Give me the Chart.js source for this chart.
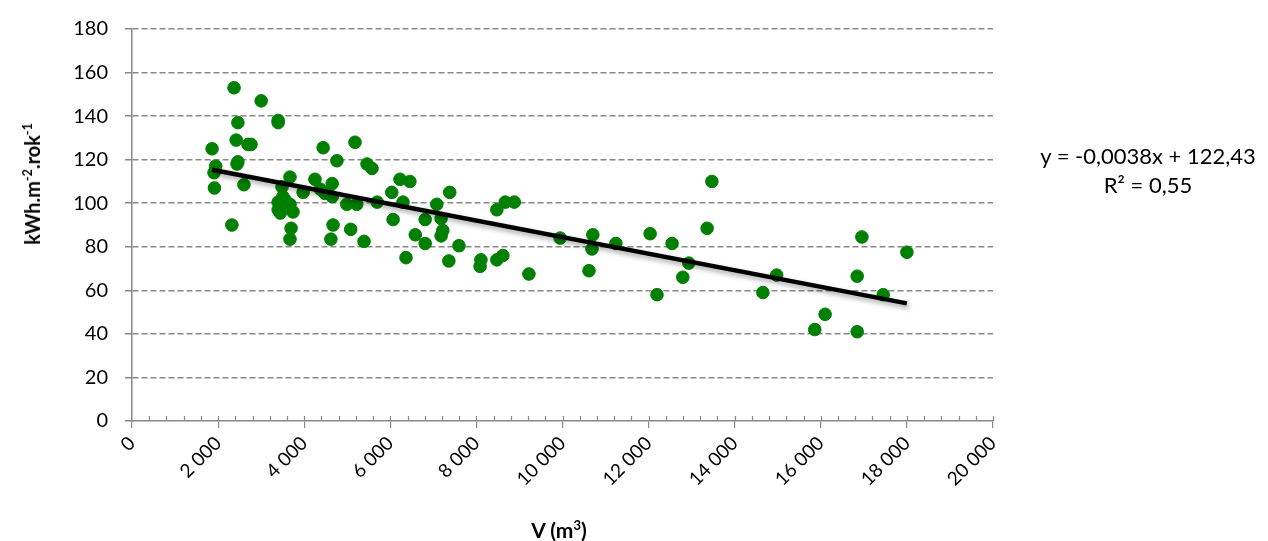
<!DOCTYPE html>
<html>
<head>
<meta charset="utf-8">
<script src="https://cdn.jsdelivr.net/npm/chart.js@4/dist/chart.umd.min.js"></script>
<style>
  html, body { margin: 0; padding: 0; background: #fff; }
  #wrap { position: relative; width: 1268px; height: 541px; font-family: Lato, "Liberation Sans", sans-serif; }
  #chart { position: absolute; left: 0; top: 0; }
  .ytitle { position: absolute; left: 32px; top: 184px; transform: translate(-50%, -50%) rotate(-90deg);
    font-weight: bold; font-size: 20px; white-space: nowrap; color: #000; }
  .xtitle { position: absolute; left: 559px; top: 529px; transform: translate(-50%, -50%);
    font-weight: bold; font-size: 21px; white-space: nowrap; color: #000; }
  .eq { position: absolute; left: 1148px; transform: translateX(-50%); font-size: 22px; white-space: nowrap; color: #000; }
  sup { font-size: 0.62em; line-height: 0; }
</style>
</head>
<body>
<div id="wrap">
  <canvas id="chart" width="1268" height="541"></canvas>
  <div class="ytitle">kWh.m<sup>-2</sup>.rok<sup>-1</sup></div>
  <div class="xtitle">V (m<sup>3</sup>)</div>
  <div class="eq" style="top:142px">y = -0,0038x + 122,43</div>
  <div class="eq" style="top:171px">R² = 0,55</div>
</div>
<script>
// objem budovy V (m3)
const volumes = [
  1860, 1945, 1905, 1915, 2320, 2370, 3000, 3395, 3395, 2460,
  2420, 2695, 2765, 2460, 2440, 2600, 3670, 3485, 3975, 3395,
  3555, 3395, 3670, 3445, 3740, 3505, 3695, 3670, 4440, 4250,
  4650, 4485, 4650, 4370, 4990, 5220, 5180, 4760, 5460, 5575,
  5695, 6035, 6225, 6455, 6295, 6065, 4670, 5080, 4620, 5390,
  6580, 6810, 6365, 6810, 7380, 7080, 7180, 7220, 7180, 7595,
  7360, 8105, 8085, 8475, 8615, 9220, 8475, 8670, 8880, 9945,
  10705, 10685, 10615, 11240, 12035, 12545, 12195, 12935, 12795, 13360,
  13470, 14655, 14975, 16100, 15860, 16845, 16845, 16955, 17450, 18000
];
// merna spotreba kWh.m-2.rok-1
const consumption = [
  125, 117, 114, 107, 90, 153, 147, 138, 137, 137,
  129, 127, 127, 119, 118, 108.5, 112, 107.5, 105, 100.5,
  101.5, 97, 99.5, 95.5, 96, 103, 88.5, 83.5, 125.5, 111,
  109, 104.5, 103, 106.5, 99.5, 99.5, 128, 119.5, 118, 116,
  100.5, 105, 111, 110, 100.5, 92.5, 90, 88, 83.5, 82.5,
  85.5, 81.5, 75, 92.5, 105, 99.5, 93, 87.5, 85, 80.5,
  73.5, 74, 71, 74, 76, 67.5, 97, 100.5, 100.5, 84,
  85.5, 79, 69, 81.5, 86, 81.5, 58, 72.5, 66, 88.5,
  110, 59, 67, 49, 42, 41, 66.5, 84.5, 58, 77.5
];
const yTicks = [0, 20, 40, 60, 80, 100, 120, 140, 160, 180];
const xTicks = [0, 2000, 4000, 6000, 8000, 10000, 12000, 14000, 16000, 18000, 20000];
const trendSlope = -0.0038;
const trendIntercept = 122.43;

const scatterPoints = volumes.map((v, i) => ({ x: v, y: consumption[i] }));
const xMin = Math.min(...volumes);
const xMax = Math.max(...volumes);
const trendPoints = [xMin, xMax].map(x => ({ x, y: trendSlope * x + trendIntercept }));

const fmt = v => String(v).replace(/\B(?=(\d{3})+(?!\d))/g, ' ');
const axisGray = '#888888';

// stin pod trendovou carou
const lineShadow = {
  id: 'lineShadow',
  beforeDatasetDraw(chart, args) {
    if (args.index !== 0) return;
    const ctx = chart.ctx;
    ctx.save();
    ctx.shadowColor = 'rgba(0,0,0,0.35)';
    ctx.shadowBlur = 5;
    ctx.shadowOffsetX = 2;
    ctx.shadowOffsetY = 3;
  },
  afterDatasetDraw(chart, args) {
    if (args.index !== 0) return;
    chart.ctx.restore();
  },
};

// znacky nad osou x po 400
const minorTicks = {
  id: 'minorTicks',
  afterDraw(chart) {
    const x = chart.scales.x;
    const y0 = chart.chartArea.bottom;
    const ctx = chart.ctx;
    ctx.save();
    ctx.strokeStyle = axisGray;
    ctx.lineWidth = 1.2;
    ctx.beginPath();
    for (let v = 400; v <= 20000; v += 400) {
      const px = Math.round(x.getPixelForValue(v)) + 0.5;
      ctx.moveTo(px, y0);
      ctx.lineTo(px, y0 - 5);
    }
    ctx.stroke();
    ctx.restore();
  },
};

new Chart(document.getElementById('chart'), {
  type: 'scatter',
  data: {
    datasets: [
      {
        type: 'line',
        label: 'trend',
        data: trendPoints,
        borderColor: '#000',
        borderWidth: 4.5,
        pointRadius: 0,
        order: 0,
      },
      {
        label: 'data',
        data: scatterPoints,
        backgroundColor: 'rgb(0,128,0)',
        borderColor: 'rgb(0,128,0)',
        pointRadius: 6.3,
        order: 1,
      },
    ],
  },
  options: {
    responsive: false,
    animation: false,
    layout: { padding: { left: 0, top: 23, right: 275, bottom: 0 } },
    plugins: { legend: { display: false }, tooltip: { enabled: false } },
    scales: {
      x: {
        type: 'linear',
        min: 0,
        max: 20000,
        afterBuildTicks: s => { s.ticks = xTicks.map(v => ({ value: v })); },
        afterFit: s => { s.height = 120; },
        border: { color: axisGray, width: 1.5 },
        grid: { drawOnChartArea: false, color: axisGray, lineWidth: 1.2, tickLength: 7 },
        ticks: {
          minRotation: 45,
          maxRotation: 45,
          color: '#000',
          padding: 4,
          font: { family: 'Lato', size: 19 },
          callback: v => fmt(v),
        },
      },
      y: {
        min: 0,
        max: 180,
        afterBuildTicks: s => { s.ticks = yTicks.map(v => ({ value: v })); },
        afterFit: s => { s.width = 132; },
        border: { color: axisGray, width: 1.5, dash: [6, 3] },
        grid: {
          color: ctx => (ctx.tick && ctx.tick.value === 0 ? 'rgba(0,0,0,0)' : axisGray),
          tickColor: axisGray,
          tickBorderDash: [],
          lineWidth: 1.5,
          tickLength: 7,
        },
        ticks: {
          color: '#000',
          padding: 17,
          font: { family: 'Lato', size: 20 },
        },
      },
    },
  },
  plugins: [lineShadow, minorTicks],
});
</script>
</body>
</html>
